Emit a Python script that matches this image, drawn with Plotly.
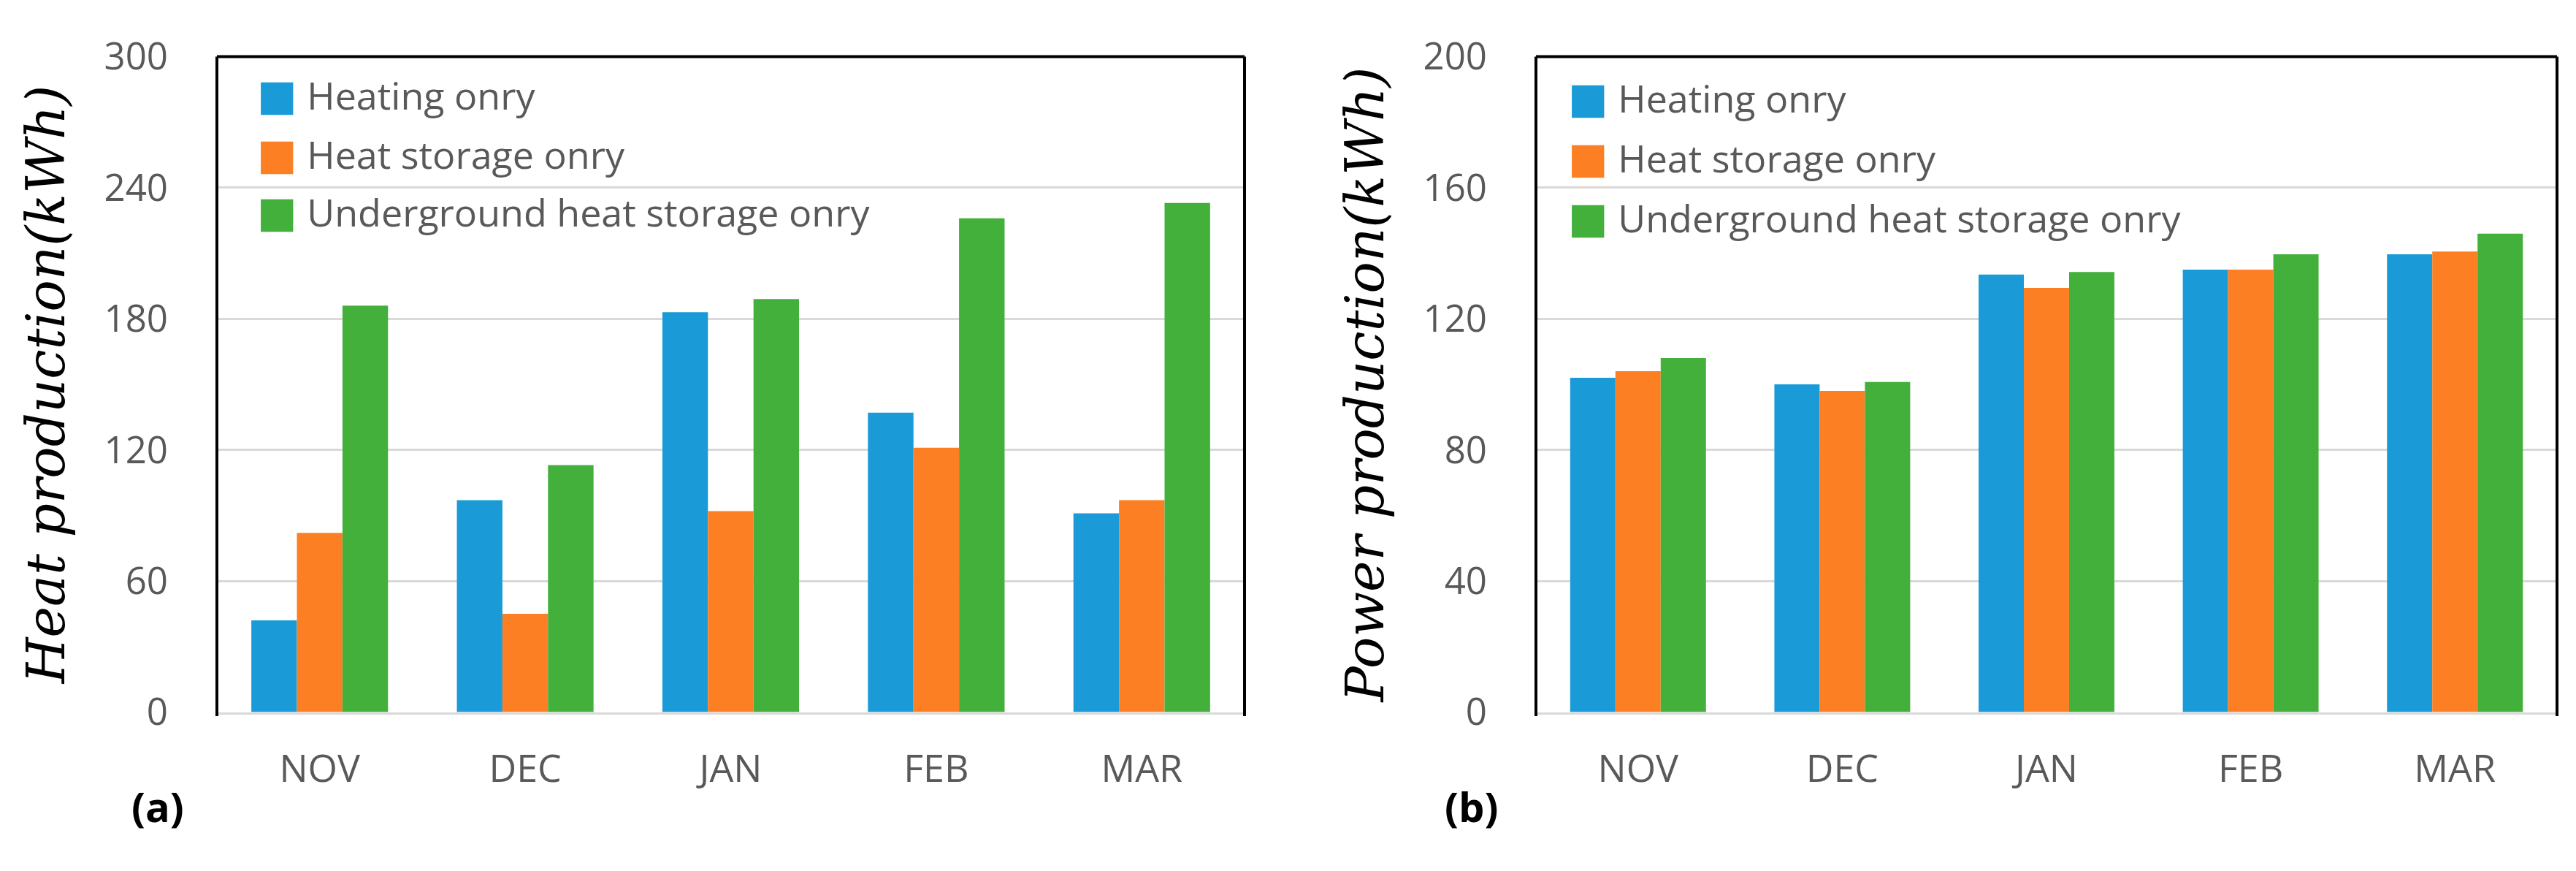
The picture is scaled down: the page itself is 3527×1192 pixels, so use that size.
import plotly.graph_objects as go
from plotly.subplots import make_subplots

# data
months = ['NOV', 'DEC', 'JAN', 'FEB', 'MAR']
series_names = ['Heating onry', 'Heat storage onry', 'Underground heat storage onry']
colors = ['#1a9bd7', '#fd7f23', '#44b03c']

heat_heating = [42, 97, 183, 137, 91]
heat_storage = [82, 45, 92, 121, 97]
heat_underground = [186, 113, 189, 226, 233]

power_heating = [102, 100, 133.5, 135, 139.7]
power_storage = [104, 98, 129.4, 135, 140.5]
power_underground = [108, 100.7, 134.3, 139.7, 146]

heat_ticks = [0, 60, 120, 180, 240, 300]
power_ticks = [0, 40, 80, 120, 160, 200]

W, H = 3527, 1192
SANS = 'Open Sans, Lato, sans-serif'
TICK_FONT = dict(family=SANS, size=51, color='#595959')
TITLE_FONT = dict(family='DejaVu Serif, Liberation Serif, serif', size=72, color='black', style='italic')

fig = make_subplots(rows=1, cols=2)

heat = [heat_heating, heat_storage, heat_underground]
power = [power_heating, power_storage, power_underground]
for i, name in enumerate(series_names):
    fig.add_trace(go.Bar(x=months, y=heat[i], name=name, marker=dict(color=colors[i], line_width=0),
                         showlegend=False), row=1, col=1)
    fig.add_trace(go.Bar(x=months, y=power[i], name=name, marker=dict(color=colors[i], line_width=0),
                         showlegend=False), row=1, col=2)

y_top = 1 - 43 / H
y_bot = 1 - 996 / H
fig.update_layout(
    width=W, height=H,
    margin=dict(l=0, r=0, t=0, b=0),
    paper_bgcolor='white', plot_bgcolor='white',
    barmode='group', bargap=0.335, bargroupgap=0,
    xaxis=dict(domain=[297 / W, 1704 / W]),
    xaxis2=dict(domain=[2103 / W, 3501 / W]),
    yaxis=dict(domain=[y_bot, y_top], range=[0, 300], tickvals=heat_ticks,
               title=dict(text='Heat production(kWh)', font=TITLE_FONT, standoff=30)),
    yaxis2=dict(domain=[y_bot, y_top], range=[0, 200], tickvals=power_ticks,
                title=dict(text='Power production(kWh)', font=TITLE_FONT, standoff=30)),
)
fig.update_xaxes(showline=True, linecolor='#d9d9d9', linewidth=3, showgrid=False,
                 ticks='', tickfont=dict(family=SANS, size=52, color='#595959'),
                 ticklabelstandoff=30)
fig.update_yaxes(showgrid=True, gridcolor='#d9d9d9', gridwidth=3, zeroline=False, showline=False,
                 ticks='', tickfont=TICK_FONT, ticklabelstandoff=66)

# black frame on left, top and right of each plot area
for ax in ['', '2']:
    for x0, y0, x1, y1 in [(0, -0.006, 0, 1), (0, 1, 1, 1), (1, -0.006, 1, 1)]:
        fig.add_shape(type='line', xref='x%s domain' % ax, yref='y%s domain' % ax,
                      x0=x0, y0=y0, x1=x1, y1=y1, line=dict(color='black', width=4))

# legends drawn as text so the swatches can be as big as in the original
legend_rows = [98, 184, 268]
legend_rows2 = [103, 190, 277]
for i, name in enumerate(series_names):
    for lx, ly in [(350, legend_rows[i]), (2145, legend_rows2[i])]:
        fig.add_annotation(
            x=lx / W, y=1 - ly / H, xref='paper', yref='paper', xanchor='left', yanchor='middle',
            showarrow=False,
            text='<span style="color:%s;font-family:DejaVu Sans;font-size:58px">■</span> %s' % (colors[i], name),
            font=dict(family=SANS, size=52, color='#595959'))

for label, lx in [('(a)', 216), ('(b)', 2014)]:
    fig.add_annotation(x=lx / W, y=1 - 1132 / H, xref='paper', yref='paper', showarrow=False,
                       xanchor='center', yanchor='middle', text='<b>%s</b>' % label,
                       font=dict(family=SANS, size=56, color='black'))

fig.write_html('out.html', config={'displayModeBar': False},
               post_script="document.body.style.margin='0';")
